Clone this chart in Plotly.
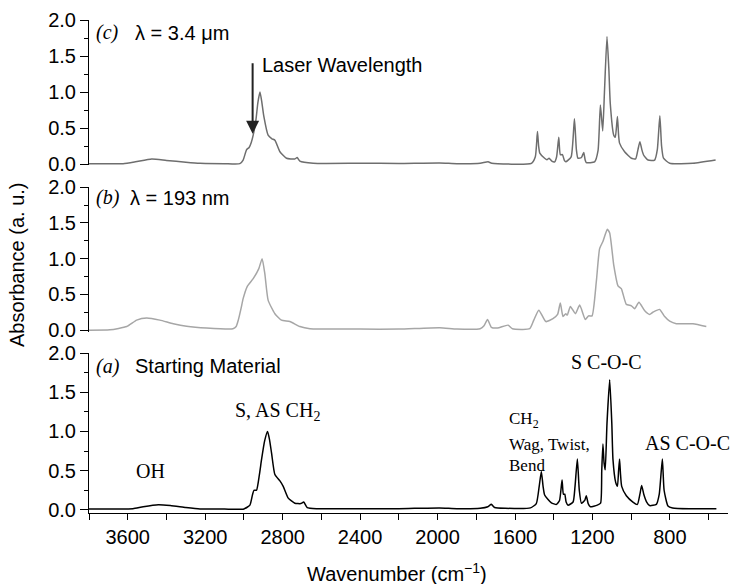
import plotly.graph_objects as go

# ---- data (wavenumber cm^-1, absorbance a.u.) ----
wn_a = [3800, 3650, 3573, 3520, 3442, 3380, 3300, 3227, 3100, 3000, 2969, 2955, 2948, 2935, 2920, 2909,
        2893, 2878, 2868, 2857, 2840, 2814, 2797, 2771, 2737, 2706, 2691, 2673, 2625, 2400, 2200, 1990,
        1900, 1780, 1740, 1722, 1705, 1650, 1520, 1490, 1475, 1464, 1455, 1447, 1412, 1386, 1370, 1357,
        1350, 1343, 1336, 1326, 1300, 1290, 1278, 1268, 1257, 1240, 1232, 1222, 1211, 1175, 1158, 1152,
        1146, 1140, 1134, 1125, 1111, 1100, 1094, 1080, 1071, 1065, 1060, 1055, 1049, 1025, 991, 968,
        955, 946, 935, 920, 905, 870, 855, 839, 830, 810, 786, 700, 560]
abs_a = [0.01, 0.01, 0.015, 0.04, 0.065, 0.055, 0.03, 0.012, 0.01, 0.012, 0.06, 0.2, 0.25, 0.25, 0.45, 0.64,
         0.88, 1.0, 0.9, 0.72, 0.45, 0.37, 0.30, 0.15, 0.085, 0.08, 0.10, 0.03, 0.015, 0.015, 0.015, 0.025,
         0.015, 0.02, 0.04, 0.07, 0.03, 0.02, 0.025, 0.08, 0.3, 0.49, 0.3, 0.19, 0.09, 0.07, 0.12, 0.38,
         0.2, 0.2, 0.1, 0.06, 0.1, 0.3, 0.65, 0.25, 0.085, 0.12, 0.18, 0.08, 0.04, 0.06, 0.085, 0.5,
         0.84, 0.6, 0.51, 1.1, 1.66, 1.1, 0.64, 0.35, 0.30, 0.5, 0.65, 0.45, 0.30, 0.18, 0.1, 0.07,
         0.2, 0.31, 0.2, 0.1, 0.055, 0.07, 0.2, 0.65, 0.25, 0.05, 0.025, 0.015, 0.015]

wn_b = [3800, 3692, 3605, 3554, 3502, 3434, 3365, 3296, 3193, 3057, 3040, 3029, 3015, 3004, 2983, 2952,
        2923, 2906, 2892, 2875, 2840, 2806, 2763, 2711, 2659, 2400, 2200, 1989, 1900, 1780, 1760, 1742,
        1722, 1690, 1636, 1613, 1524, 1503, 1477, 1441, 1404, 1380, 1366, 1352, 1338, 1330, 1314, 1288,
        1266, 1237, 1220, 1202, 1180, 1163, 1146, 1123, 1111, 1090, 1068, 1051, 1025, 999, 982, 960,
        930, 905, 888, 853, 827, 801, 767, 681, 612]
abs_b = [0.0, 0.005, 0.05, 0.14, 0.17, 0.14, 0.09, 0.055, 0.03, 0.02, 0.05, 0.14, 0.3, 0.44, 0.61, 0.72,
         0.86, 1.0, 0.79, 0.42, 0.23, 0.14, 0.12, 0.05, 0.02, 0.015, 0.015, 0.035, 0.015, 0.02, 0.06, 0.15,
         0.04, 0.03, 0.07, 0.02, 0.02, 0.14, 0.28, 0.12, 0.16, 0.22, 0.38, 0.19, 0.23, 0.21, 0.33, 0.23,
         0.35, 0.15, 0.20, 0.20, 0.68, 1.14, 1.24, 1.41, 1.36, 0.91, 0.62, 0.58, 0.36, 0.34, 0.30, 0.39,
         0.27, 0.22, 0.25, 0.29, 0.19, 0.125, 0.09, 0.09, 0.05]

wn_c = [3800, 3624, 3560, 3476, 3400, 3300, 3227, 3100, 3021, 3004, 2986, 2973, 2962, 2952, 2938, 2928,
        2917, 2907, 2897, 2875, 2855, 2840, 2814, 2780, 2737, 2725, 2711, 2642, 2400, 2200, 1989, 1900,
        1780, 1739, 1720, 1515, 1495, 1484, 1478, 1472, 1447, 1435, 1424, 1410, 1395, 1385, 1374, 1366,
        1355, 1345, 1338, 1310, 1293, 1283, 1275, 1257, 1245, 1238, 1232, 1189, 1171, 1159, 1147, 1138,
        1125, 1115, 1108, 1090, 1082, 1071, 1065, 1060, 1034, 999, 977, 965, 955, 945, 936, 913,
        879, 865, 852, 843, 833, 801, 681, 564]
abs_c = [0.005, 0.005, 0.03, 0.07, 0.05, 0.025, 0.01, 0.005, 0.005, 0.055, 0.2, 0.23, 0.3, 0.40, 0.61, 0.85,
         1.0, 0.85, 0.66, 0.40, 0.35, 0.33, 0.17, 0.08, 0.07, 0.09, 0.04, 0.01, 0.01, 0.008, 0.015, 0.005,
         0.01, 0.03, 0.01, 0.01, 0.1, 0.45, 0.25, 0.15, 0.08, 0.06, 0.08, 0.04, 0.03, 0.1, 0.37, 0.13,
         0.13, 0.05, 0.03, 0.1, 0.63, 0.2, 0.08, 0.09, 0.16, 0.06, 0.02, 0.03, 0.19, 0.82, 0.46, 1.0,
         1.77, 1.3, 0.84, 0.40, 0.37, 0.66, 0.4, 0.29, 0.17, 0.08, 0.07, 0.2, 0.31, 0.2, 0.125, 0.055,
         0.055, 0.2, 0.67, 0.25, 0.08, 0.01, 0.01, 0.055]

y_ticks = [0.0, 0.5, 1.0, 1.5, 2.0]
x_range = [3800, 500]

SANS = "Liberation Sans, Arial, sans-serif"
SERIF = "Liberation Serif, Times New Roman, serif"
TICKFONT = dict(family=SANS, size=20, color="black")

fig = go.Figure()
for wn, ab, col, ya in [(wn_a, abs_a, "black", "y"), (wn_b, abs_b, "#a6a6a6", "y2"),
                        (wn_c, abs_c, "#6e6e6e", "y3")]:
    fig.add_trace(go.Scatter(x=wn, y=ab, mode="lines",
                             line=dict(color=col, width=1.5, shape="spline", smoothing=0.5),
                             xaxis="x", yaxis=ya, showlegend=False))

def yax(domain, lo):
    return dict(domain=domain, range=[lo, 2.0], anchor="x", tickvals=y_ticks,
                ticktext=[f"{v:.1f}" for v in y_ticks], ticks="outside", ticklen=8, tickwidth=1,
                tickcolor="black", showline=True, linecolor="black", linewidth=1, showgrid=False,
                zeroline=False, tickfont=TICKFONT,
                minor=dict(dtick=0.25, tick0=0, ticks="outside", ticklen=4, tickcolor="black", showgrid=False))

fig.update_layout(
    width=734, height=584,
    margin=dict(l=89, r=6, t=20, b=71),
    plot_bgcolor="white", paper_bgcolor="white",
    xaxis=dict(range=x_range, anchor="y", tick0=0, dtick=400, ticks="outside", ticklen=6,
               tickcolor="black", showline=True, linecolor="black", linewidth=1, showgrid=False,
               zeroline=False, tickfont=TICKFONT,
               minor=dict(dtick=200, tick0=0, ticks="outside", ticklen=6, tickcolor="black", showgrid=False)),
    yaxis=yax([0.0, 0.3245], -0.04),
    yaxis2=yax([0.368, 0.661], -0.02),
    yaxis3=yax([0.705, 1.0], -0.02),
)

ann = []
def txt(x, y, text, yref, font, xanchor="left", size=20):
    ann.append(dict(x=x, y=y, xref="x", yref=yref, text=text, showarrow=False, xanchor=xanchor,
                    yanchor="middle", font=dict(family=font, size=size, color="black")))

# panel labels
txt(3775, 1.82, "<i>(c)</i>", "y3", SERIF)
txt(3575, 1.82, "λ = 3.4 μm", "y3", SANS)
txt(3775, 1.85, "<i>(b)</i>", "y2", SERIF)
txt(3600, 1.85, "λ = 193 nm", "y2", SANS)
txt(3775, 1.83, "<i>(a)</i>", "y", SERIF)
txt(3575, 1.83, "Starting Material", "y", SANS)
txt(2915, 1.375, "Laser Wavelength", "y3", SANS)

# peak assignments
txt(3485, 0.5, "OH", "y", SERIF, xanchor="center")
txt(2827, 1.26, "S, AS CH<sub>2</sub>", "y", SERIF, xanchor="center")
txt(1643, 1.15, "CH<sub>2</sub>", "y", SERIF, size=17)
txt(1643, 0.83, "Wag, Twist,", "y", SERIF, size=17)
txt(1643, 0.57, "Bend", "y", SERIF, size=17)
txt(1127, 1.89, "S C-O-C", "y", SERIF, xanchor="center")
txt(941, 0.85, "AS C-O-C", "y", SERIF)

# laser arrow
ann.append(dict(x=2955, y=0.42, xref="x", yref="y3", ax=2955, ay=1.42, axref="x", ayref="y3",
                text="", showarrow=True, arrowhead=2, arrowsize=1.3, arrowwidth=2, arrowcolor="#222222"))

# axis titles
ann.append(dict(x=(397 - 89) / 639, y=(513 - 572) / 493, xref="paper", yref="paper",
                text="Wavenumber (cm<sup>−1</sup>)", showarrow=False, xanchor="center", yanchor="middle",
                font=dict(family=SANS, size=20, color="black")))
ann.append(dict(x=(17 - 89) / 639, y=(513 - 265) / 493, xref="paper", yref="paper",
                text="Absorbance (a. u.)", showarrow=False, xanchor="center", yanchor="middle",
                textangle=-90, font=dict(family=SANS, size=20, color="black")))

fig.update_layout(annotations=ann)
fig.write_html("out.html")
